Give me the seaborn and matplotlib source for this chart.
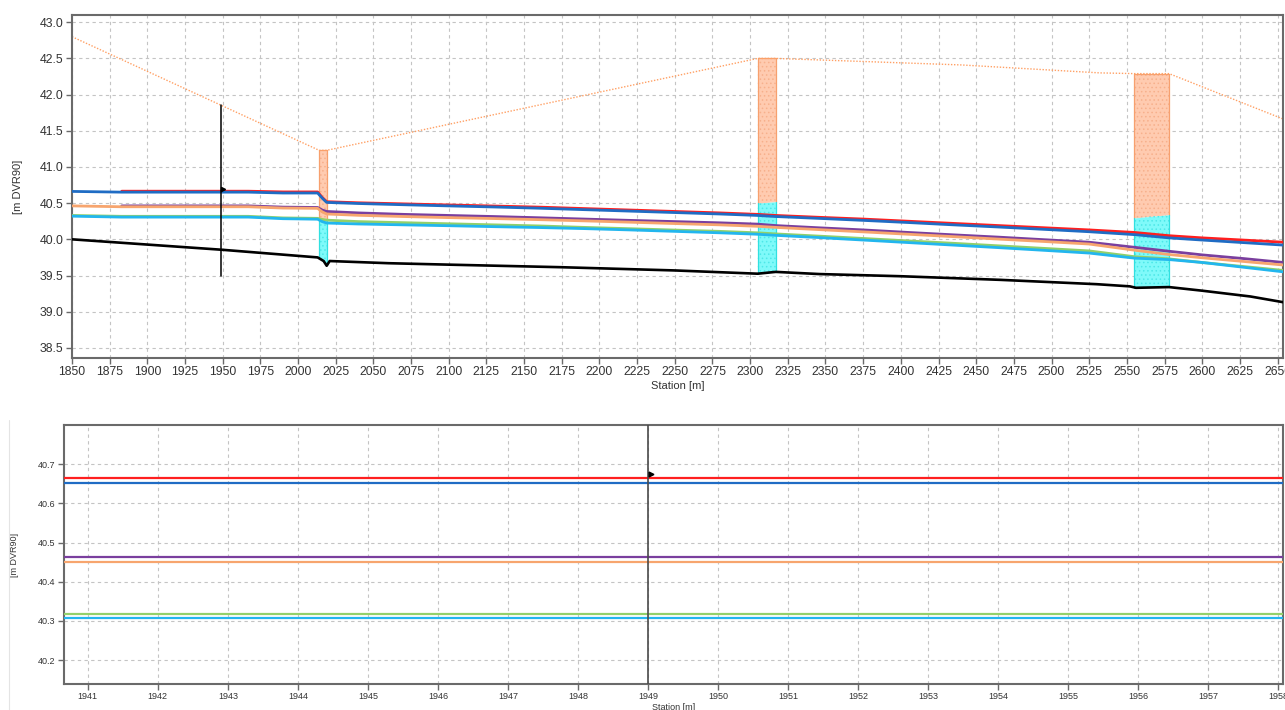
import numpy as np
import matplotlib
matplotlib.use("Agg")
import matplotlib.pyplot as plt
import seaborn as sns
from matplotlib.lines import Line2D

# Computation stations along the reach [m]
station = [1850, 1883, 1967, 1990, 2013, 2016, 2019, 2040, 2070, 2100,
           2130, 2160, 2190, 2220, 2250, 2280, 2305, 2317, 2345, 2375,
           2405, 2435, 2465, 2495, 2525, 2555, 2578, 2600, 2627, 2654]

# Water levels [m DVR90] for the six scenarios
wl_red = [np.nan, 40.665, 40.665, 40.655, 40.655, 40.580, 40.520, 40.505, 40.490, 40.475,
          40.460, 40.445, 40.425, 40.405, 40.385, 40.365, 40.345, 40.330, 40.305, 40.280,
          40.250, 40.220, 40.190, 40.160, 40.130, 40.095, 40.050, 40.020, 39.990, 39.960]
wl_blue = [40.662, 40.652, 40.652, 40.640, 40.640, 40.570, 40.510, 40.495, 40.478, 40.462,
           40.447, 40.430, 40.410, 40.390, 40.370, 40.350, 40.330, 40.315, 40.290, 40.262,
           40.232, 40.200, 40.170, 40.138, 40.105, 40.065, 40.020, 39.990, 39.955, 39.920]
wl_purple = [np.nan, 40.462, 40.462, 40.445, 40.440, 40.405, 40.385, 40.365, 40.345, 40.330,
             40.315, 40.298, 40.280, 40.262, 40.245, 40.228, 40.210, 40.190, 40.160, 40.130,
             40.095, 40.062, 40.030, 39.995, 39.960, 39.890, 39.835, 39.785, 39.735, 39.680]
wl_orange = [40.462, 40.450, 40.450, 40.432, 40.428, 40.380, 40.350, 40.332, 40.315, 40.300,
             40.287, 40.272, 40.255, 40.237, 40.218, 40.200, 40.180, 40.165, 40.135, 40.103,
             40.070, 40.037, 40.003, 39.970, 39.935, 39.850, 39.790, 39.745, 39.695, 39.645]
wl_green = [40.330, 40.318, 40.318, 40.296, 40.290, 40.275, 40.265, 40.245, 40.230, 40.215,
            40.200, 40.185, 40.165, 40.147, 40.128, 40.110, 40.090, 40.075, 40.045, 40.012,
            39.978, 39.945, 39.910, 39.875, 39.840, 39.760, 39.730, 39.680, 39.625, 39.570]
wl_cyan = [40.320, 40.307, 40.307, 40.285, 40.278, 40.245, 40.225, 40.212, 40.200, 40.188,
           40.175, 40.163, 40.148, 40.130, 40.110, 40.090, 40.070, 40.055, 40.025, 39.990,
           39.955, 39.920, 39.885, 39.848, 39.810, 39.740, 39.720, 39.680, 39.615, 39.550]

# Channel bed
bed_station = [1850, 1950, 2013, 2017, 2019, 2021, 2060, 2100, 2174, 2250, 2305, 2317,
               2346, 2400, 2466, 2530, 2552, 2556, 2578, 2600, 2632, 2654]
bed_level = [40.00, 39.855, 39.75, 39.70, 39.635, 39.70, 39.67, 39.65, 39.615, 39.57, 39.525, 39.55,
             39.52, 39.49, 39.44, 39.38, 39.35, 39.33, 39.34, 39.29, 39.21, 39.13]

# Bank / terrain level
bank_station = [1850, 2014, 2019, 2305, 2317, 2440, 2532, 2555, 2578, 2654]
bank_level = [42.80, 41.23, 41.23, 42.50, 42.50, 42.41, 42.30, 42.29, 42.29, 41.66]

# Structures: extent, top, opening level and invert at each side
struct_start = [2014, 2305, 2555]
struct_end = [2019, 2317, 2578]
struct_top = [(41.23, 41.23), (42.50, 42.50), (42.29, 42.29)]
struct_open = [(40.29, 40.27), (40.50, 40.52), (40.295, 40.34)]
struct_inv = [(39.74, 39.64), (39.525, 39.55), (39.33, 39.34)]

# Cursor position
cursor_station = 1949
cursor_top, cursor_bottom = 41.86, 39.50
cursor_level = 40.675

series = [
    (wl_red, "#ff1f1f"),
    (wl_blue, "#1f6cc4"),
    (wl_purple, "#7a3f9e"),
    (wl_orange, "#f7a56e"),
    (wl_green, "#92d06a"),
    (wl_cyan, "#22b6ee"),
]

sns.set_style("white")
plt.rcParams["font.family"] = ["Liberation Sans", "DejaVu Sans"]
plt.rcParams["hatch.linewidth"] = 0.6

W, H = 1285, 710
fig = plt.figure(figsize=(W / 100, H / 100), dpi=100)
ax1 = fig.add_axes([72 / W, 1 - 358 / H, (1283 - 72) / W, (358 - 15) / H])
ax2 = fig.add_axes([64 / W, 1 - 684 / H, (1283 - 64) / W, (684 - 425) / H])

text_c = "#333333"
spine_c = "#6a6a6a"


def style_axes(ax, fs):
    ax.set_axisbelow(True)
    ax.grid(True, ls=(0, (3, 3)), color="#c4c4c4", lw=0.8)
    for sp in ax.spines.values():
        sp.set_color(spine_c)
        sp.set_linewidth(1.5)
    ax.tick_params(direction="out", length=4, width=1, color=spine_c,
                   labelsize=fs, labelcolor=text_c, pad=2,
                   bottom=True, left=True)


def draw_profile(ax, lw, with_structures):
    if with_structures:
        for x0, x1, top, opn, inv in zip(struct_start, struct_end, struct_top,
                                         struct_open, struct_inv):
            xs = [x0, x1]
            ax.fill_between(xs, opn, top, color="#ffcbb0", lw=0, zorder=1)
            ax.fill_between(xs, opn, top, facecolor="none", edgecolor="#f7b08c",
                            hatch="....", lw=0, zorder=1.1)
            ax.fill_between(xs, inv, opn, color="#7ffafa", lw=0, zorder=1)
            ax.fill_between(xs, inv, opn, facecolor="none", edgecolor="#4de8e8",
                            hatch="....", lw=0, zorder=1.1)
            for i, x in enumerate(xs):
                ax.plot([x, x], [opn[i], top[i]], color="#f7a06e", lw=0.9, zorder=1.2)
                ax.plot([x, x], [inv[i], opn[i]], color="#30e0e0", lw=0.9, zorder=1.2)
            ax.plot(xs, top, color="#f7a06e", lw=0.9, zorder=1.2)
        sns.lineplot(x=bank_station, y=bank_level, ax=ax, color="#ffa064",
                     lw=1.0, ls=(0, (1, 1.2)), estimator=None, sort=False, zorder=2)
    for vals, col in series:
        sns.lineplot(x=station, y=vals, ax=ax, color=col, lw=lw,
                     estimator=None, sort=False, zorder=3)
    sns.lineplot(x=bed_station, y=bed_level, ax=ax, color="black", lw=lw * 0.95,
                 estimator=None, sort=False, zorder=3)


# Longitudinal profile
draw_profile(ax1, 2.0, True)
ax1.plot([cursor_station, cursor_station], [cursor_bottom, cursor_top],
         color="black", lw=1.1, zorder=4)
ax1.plot([cursor_station + 1.5], [cursor_level + 0.02], marker=">", ms=3,
         color="black", zorder=5)
ax1.set_xlim(1850, 2653.6)
ax1.set_ylim(38.36, 43.1)
ax1.set_xticks(np.arange(1850, 2651, 25))
ax1.set_yticks(np.arange(38.5, 43.01, 0.5))
ax1.yaxis.set_major_formatter(plt.FormatStrFormatter("%.1f"))
style_axes(ax1, 8.8)
ax1.set_xlabel("Station [m]", fontsize=8, color=text_c, labelpad=2)
ax1.set_ylabel("[m DVR90]", fontsize=8, color=text_c, labelpad=12)

# Detail around the cursor
draw_profile(ax2, 1.6, False)
ax2.axvline(cursor_station, color="#4a4a4a", lw=1.2, zorder=4)
ax2.plot([cursor_station + 0.04], [cursor_level], marker=">", ms=3.5,
         color="black", zorder=5)
ax2.set_xlim(1940.66, 1958.07)
ax2.set_ylim(40.139, 40.80)
ax2.set_xticks(np.arange(1941, 1959, 1))
ax2.set_yticks(np.arange(40.2, 40.71, 0.1))
ax2.yaxis.set_major_formatter(plt.FormatStrFormatter("%.1f"))
style_axes(ax2, 6.5)
ax2.set_xlabel("Station [m]", fontsize=6.5, color=text_c, labelpad=1)
ax2.set_ylabel("[m DVR90]", fontsize=6.5, color=text_c, labelpad=14)

# Panel frame line on the left of the detail view
fig.add_artist(Line2D([9 / W, 9 / W], [0, 1 - 420 / H], color="#e4e4e4", lw=0.8))

fig.savefig("out.png", dpi=100, facecolor="white")
